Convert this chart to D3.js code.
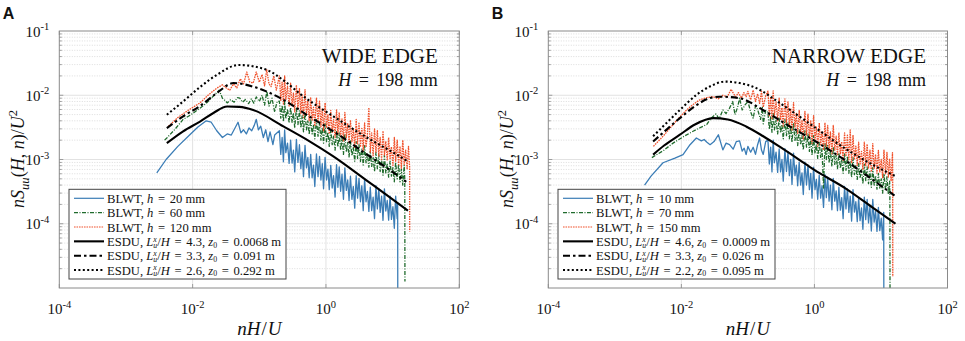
<!DOCTYPE html>
<html lang="en">
<head>
<meta charset="UTF-8">
<title>Spectra: wide edge vs narrow edge</title>
<script src="https://d3js.org/d3.v7.min.js"></script>
<style>
  body { margin: 0; background: #fff; }
  svg text { font-family: "Liberation Serif", "DejaVu Serif", serif; fill: #111; white-space: pre; }
  .panel-tag { font-family: "Liberation Sans", Arial, sans-serif !important; font-weight: bold; }
</style>
</head>
<body>
<svg id="chart" width="965" height="341"></svg>
<script>
// ---- data ----
// low-frequency part of each BLWT trace: [nH/U, nSuu/U^2]
const blwtA20Low = [
  [0.0029,6.2e-4],[0.004,1.0e-3],[0.006,1.6e-3],[0.009,2.4e-3],[0.012,3.2e-3],[0.016,4.0e-3],[0.019,3.8e-3],
  [0.023,2.8e-3],[0.028,2.2e-3],[0.033,2.5e-3],[0.038,2.4e-3],[0.044,3.2e-3],[0.048,3.8e-3],[0.053,2.6e-3],
  [0.058,2.9e-3],[0.064,2.5e-3],[0.07,3.1e-3],[0.077,2.8e-3],[0.084,3.4e-3],[0.09,4.2e-3],[0.097,2.9e-3],
  [0.105,3.3e-3],[0.115,2.2e-3],[0.125,2.9e-3],[0.135,1.9e-3],[0.145,2.7e-3],[0.16,1.7e-3],[0.17,2.4e-3]
];
const blwtA60Low = [
  [0.0038,2.0e-3],[0.0041,2.16e-3],[0.0055,3.0e-3],[0.0072,4.2e-3],[0.0095,5.0e-3],[0.0129,6.3e-3],[0.016,7.5e-3],
  [0.019,9.0e-3],[0.022,1.05e-2],[0.025,1.2e-2],[0.028,9.0e-3],[0.031,8.2e-3],[0.033,7.6e-3],[0.037,8.5e-3],
  [0.042,7.8e-3],[0.047,9.2e-3],[0.051,9.0e-3],[0.056,7.8e-3],[0.062,8.6e-3],[0.069,7.4e-3],[0.076,8.8e-3],
  [0.083,7.5e-3],[0.09,9.4e-3],[0.1,8.0e-3],[0.11,1.0e-2],[0.12,7.0e-3],[0.13,1.15e-2],[0.14,6.8e-3],
  [0.155,9.0e-3],[0.17,5.5e-3],[0.185,8.0e-3]
];
const blwtA120Low = [
  [0.0043,3.27e-3],[0.006,4.5e-3],[0.0085,5.8e-3],[0.0129,7.6e-3],[0.017,1.0e-2],[0.023,1.29e-2],[0.028,1.45e-2],
  [0.032,1.3e-2],[0.036,1.2e-2],[0.041,1.5e-2],[0.046,1.3e-2],[0.052,1.8e-2],[0.058,1.5e-2],[0.065,2.3e-2],
  [0.072,1.6e-2],[0.081,1.55e-2],[0.09,2.3e-2],[0.1,1.6e-2],[0.11,2.1e-2],[0.12,1.4e-2],[0.129,2.5e-2],
  [0.14,1.5e-2],[0.15,1.36e-2],[0.165,2.0e-2],[0.18,1.2e-2]
];
const blwtB10Low = [
  [0.0028,4.0e-4],[0.0035,5.5e-4],[0.0053,8.9e-4],[0.008,1.05e-3],[0.0106,1.19e-3],[0.0135,1.7e-3],[0.0168,2.16e-3],
  [0.02,1.95e-3],[0.022,2.05e-3],[0.024,1.87e-3],[0.027,1.7e-3],[0.031,1.9e-3],[0.036,2.43e-3],[0.042,1.41e-3],
  [0.047,1.8e-3],[0.053,1.7e-3],[0.06,1.45e-3],[0.067,1.9e-3],[0.075,1.95e-3],[0.082,1.35e-3],[0.088,1.5e-3],
  [0.094,1.19e-3],[0.1,1.6e-3],[0.11,1.3e-3],[0.12,1.55e-3],[0.13,1.2e-3],[0.14,1.7e-3],[0.15,2.16e-3],[0.16,1.4e-3],
  [0.17,1.2e-3],[0.185,1.9e-3]
];
const blwtB70Low = [
  [0.0036,1.07e-3],[0.0055,1.4e-3],[0.0075,1.8e-3],[0.011,2.3e-3],[0.015,2.75e-3],[0.02,3.2e-3],[0.024,3.5e-3],
  [0.028,4.4e-3],[0.033,5.1e-3],[0.037,4.3e-3],[0.042,5.9e-3],[0.047,5.2e-3],[0.053,6.3e-3],[0.059,8.0e-3],
  [0.064,5.0e-3],[0.07,6.5e-3],[0.075,9.0e-3],[0.082,5.9e-3],[0.09,7.0e-3],[0.1,8.0e-3],[0.11,5.5e-3],[0.12,4.4e-3],
  [0.13,6.8e-3],[0.14,6.0e-3],[0.155,4.2e-3],[0.165,6.5e-3],[0.17,3.6e-3],[0.185,5.8e-3]
];
const blwtB150Low = [
  [0.0038,1.6e-3],[0.0055,2.4e-3],[0.0075,3.5e-3],[0.0095,4.6e-3],[0.012,5.9e-3],[0.015,7.2e-3],[0.019,8.5e-3],
  [0.024,9.2e-3],[0.03,9.5e-3],[0.036,8.8e-3],[0.042,1.0e-2],[0.049,9.4e-3],[0.056,1.24e-2],[0.061,1.05e-2],
  [0.066,9.5e-3],[0.072,1.1e-2],[0.08,9.0e-3],[0.087,1.1e-2],[0.094,9.5e-3],[0.1,1.15e-2],[0.11,8.5e-3],
  [0.12,1.2e-2],[0.13,8.0e-3],[0.14,1.05e-2],[0.15,7.5e-3],[0.16,1.15e-2],[0.17,6.5e-3],[0.185,9.8e-3]
];

// high-frequency part: frequencies shared by all traces, values per trace
const fHigh = [
  0.20,0.21,0.22,0.23,0.24,0.25,0.265,0.28,0.295,0.31,0.325,0.34,0.36,0.38,0.40,0.42,0.44,0.46,0.485,0.51,
  0.535,0.56,0.59,0.62,0.65,0.68,0.72,0.76,0.80,0.84,0.88,0.92,0.97,1.02,1.07,1.12,1.18,1.24,1.30,1.37,
  1.44,1.51,1.58,1.66,1.74,1.83,1.92,2.02,2.12,2.22,2.33,2.45,2.57,2.70,2.84,2.98,3.13,3.29,3.45,3.62,
  3.80,3.99,4.19,4.40,4.62,4.85,5.10,5.35,5.62,5.90,6.20,6.50,6.83,7.17,7.53,7.90,8.30,8.71,9.15,9.60,
  10.1,10.6,11.1,11.7,12.3,12.9,13.5,14.2,14.9,15.7,16.5,17.3,18.0
];
const blwtA20High = [
  2.8e-3,1.2e-3,2.2e-3,9.2e-4,2.9e-3,1.28e-3,1.8e-3,8.7e-4,2.0e-3,8.8e-4,1.4e-3,6.4e-4,2.05e-3,9e-4,
  1.7e-3,7.2e-4,1.3e-3,5.4e-4,1.66e-3,7.4e-4,1.08e-3,5.2e-4,1.2e-3,5.2e-4,8.2e-4,3.8e-4,1.22e-3,5.4e-4,
  1.12e-3,4.8e-4,8.6e-4,3.5e-4,1.08e-3,4.8e-4,7.1e-4,3.4e-4,8.1e-4,3.6e-4,5.6e-4,2.6e-4,8.3e-4,3.7e-4,
  7.7e-4,3.2e-4,5.9e-4,2.4e-4,7.4e-4,3.3e-4,4.8e-4,2.3e-4,5.5e-4,2.4e-4,3.8e-4,1.75e-4,5.6e-4,2.5e-4,
  5.1e-4,2.2e-4,3.9e-4,1.6e-4,5.0e-4,2.2e-4,3.2e-4,1.56e-4,3.7e-4,1.6e-4,2.6e-4,1.2e-4,3.9e-4,1.7e-4,
  3.5e-4,1.5e-4,2.7e-4,1.13e-4,3.5e-4,1.58e-4,2.3e-4,1.14e-4,2.7e-4,1.17e-4,1.84e-4,8.5e-5,2.7e-4,1.2e-4
];
const blwtA60High = [
  8.1e-3,4.4e-3,7.0e-3,3.9e-3,8.0e-3,4.3e-3,6.1e-3,3.7e-3,6.5e-3,3.8e-3,5.3e-3,3.1e-3,6.3e-3,3.5e-3,
  5.7e-3,3.1e-3,4.8e-3,2.7e-3,5.4e-3,2.9e-3,4.0e-3,2.45e-3,4.3e-3,2.5e-3,3.5e-3,2.1e-3,4.2e-3,2.3e-3,
  3.8e-3,2.0e-3,3.1e-3,1.8e-3,3.6e-3,1.9e-3,2.65e-3,1.6e-3,2.9e-3,1.7e-3,2.3e-3,1.4e-3,2.8e-3,1.56e-3,
  2.6e-3,1.4e-3,2.15e-3,1.2e-3,2.5e-3,1.3e-3,1.85e-3,1.1e-3,1.95e-3,1.14e-3,1.56e-3,9.4e-4,1.9e-3,1.04e-3,
  1.7e-3,9.3e-4,1.45e-3,8.2e-4,1.65e-3,8.9e-4,1.24e-3,7.6e-4,1.34e-3,7.8e-4,1.07e-3,6.5e-4,1.29e-3,7.2e-4,
  1.19e-3,6.5e-4,1.0e-3,5.7e-4,1.16e-3,6.2e-4,8.7e-4,5.3e-4,9.4e-4,5.5e-4,7.5e-4,4.5e-4,9.1e-4,5.0e-4,
  8.4e-4,4.5e-4,7.1e-4,4.0e-4,8.1e-4
];
const blwtA120High = [
  2.0e-2,8.3e-3,1.6e-2,7.3e-3,2.0e-2,8.5e-3,1.38e-2,6.8e-3,1.54e-2,6.9e-3,1.08e-2,5.5e-3,1.44e-2,6.0e-3,
  1.27e-2,5.2e-3,1.0e-2,4.5e-3,1.22e-2,5.0e-3,8.2e-3,4.0e-3,9.1e-3,4.1e-3,6.5e-3,3.3e-3,9.0e-3,3.8e-3,
  8.1e-3,3.25e-3,6.2e-3,2.8e-3,7.6e-3,3.1e-3,5.0e-3,2.5e-3,5.8e-3,2.65e-3,4.2e-3,2.2e-3,5.9e-3,2.5e-3,
  5.4e-3,2.2e-3,4.3e-3,1.95e-3,5.4e-3,2.2e-3,3.6e-3,1.8e-3,4.1e-3,1.9e-3,3.0e-3,1.54e-3,4.2e-3,1.75e-3,
  3.8e-3,1.56e-3,3.05e-3,1.38e-3,3.7e-3,1.55e-3,2.5e-3,6.4e-3,1.3e-3,2.6e-3,1.15e-3,3.0e-3,1.3e-3,2.8e-3,
  1.14e-3,2.2e-3,1.0e-3,2.8e-3,1.17e-3,1.9e-3,9.6e-4,2.2e-3,1.0e-3,1.58e-3,8.1e-4,2.2e-3,9.4e-4,2.0e-3,
  8.3e-4,1.6e-3,7.3e-4,2.0e-3,8.4e-4,1.4e-3,7.0e-4,1.6e-3,7.5e-4
];
const blwtB10High = [
  2.0e-3,8.5e-4,1.56e-3,6.4e-4,2.0e-3,8.9e-4,1.3e-3,6.3e-4,1.46e-3,6.4e-4,1.0e-3,4.6e-4,1.47e-3,6.5e-4,
  1.31e-3,5.6e-4,1.0e-3,4.1e-4,1.26e-3,5.6e-4,8.2e-4,3.9e-4,9.1e-4,4.0e-4,6.2e-4,2.85e-4,9.1e-4,4.0e-4,
  8.2e-4,3.4e-4,6.1e-4,2.5e-4,7.6e-4,3.4e-4,4.9e-4,2.4e-4,5.7e-4,2.5e-4,3.9e-4,1.8e-4,5.8e-4,2.55e-4,
  5.3e-4,2.25e-4,4.0e-4,1.65e-4,5.1e-4,2.25e-4,3.25e-4,1.6e-4,3.7e-4,1.63e-4,2.55e-4,1.2e-4,3.8e-4,1.7e-4,
  3.5e-4,1.5e-4,2.7e-4,1.1e-4,3.4e-4,1.52e-4,2.2e-4,1.08e-4,2.55e-4,1.12e-4,1.76e-4,8.2e-5,2.6e-4,1.16e-4,
  2.4e-4,1.03e-4,1.87e-4,7.7e-5,2.4e-4,1.06e-4,1.56e-4,7.6e-5,1.8e-4,7.8e-5,1.22e-4,5.6e-5
];
const blwtB70High = [
  5.4e-3,2.95e-3,4.6e-3,2.65e-3,5.4e-3,2.9e-3,4.1e-3,2.5e-3,4.4e-3,2.6e-3,3.5e-3,2.1e-3,4.2e-3,2.35e-3,
  3.85e-3,2.1e-3,3.25e-3,1.85e-3,3.7e-3,1.98e-3,2.75e-3,1.65e-3,2.9e-3,1.7e-3,2.35e-3,1.4e-3,2.8e-3,1.56e-3,
  2.5e-3,1.34e-3,2.1e-3,1.17e-3,2.35e-3,1.24e-3,1.72e-3,1.04e-3,1.85e-3,1.08e-3,1.48e-3,3.6e-4,1.8e-3,1.0e-3,
  1.65e-3,8.9e-4,1.38e-3,7.8e-4,1.57e-3,8.4e-4,1.17e-3,7.2e-4,1.26e-3,7.3e-4,1.0e-3,6.1e-4,1.22e-3,6.8e-4,
  1.12e-3,6.1e-4,9.5e-4,5.3e-4,1.07e-3,5.8e-4,8.0e-4,4.9e-4,8.6e-4,5.1e-4,7.0e-4,4.2e-4,8.5e-4,4.7e-4,
  7.7e-4,4.2e-4,6.5e-4,3.7e-4,7.5e-4,4.0e-4,5.6e-4,3.45e-4,6.1e-4,3.6e-4,5.0e-4,3.0e-4,6.0e-4,3.3e-4,
  5.4e-4,2.9e-4,4.6e-4
];
const blwtB150High = [
  1.16e-2,4.8e-3,9.4e-3,4.2e-3,1.17e-2,4.9e-3,7.9e-3,4.0e-3,9.0e-3,4.1e-3,6.4e-3,3.3e-3,8.8e-3,3.7e-3,
  7.9e-3,3.2e-3,6.2e-3,2.8e-3,7.7e-3,3.2e-3,5.2e-3,2.55e-3,5.8e-3,2.6e-3,4.1e-3,2.1e-3,5.6e-3,2.4e-3,
  5.1e-3,2.1e-3,4.0e-3,1.77e-3,4.8e-3,2.0e-3,3.2e-3,1.6e-3,3.7e-3,1.7e-3,2.7e-3,1.4e-3,3.76e-3,1.58e-3,
  3.4e-3,1.4e-3,2.7e-3,1.23e-3,3.4e-3,1.4e-3,2.3e-3,1.15e-3,2.6e-3,1.2e-3,1.9e-3,9.7e-4,2.6e-3,1.12e-3,
  2.4e-3,9.9e-4,2.9e-3,8.7e-4,2.4e-3,9.9e-4,1.62e-3,8.1e-4,1.86e-3,8.5e-4,1.34e-3,7.0e-4,1.87e-3,8.0e-4,
  1.74e-3,7.2e-4,1.4e-3,6.4e-4,1.77e-3,7.3e-4,1.2e-3,6.1e-4,1.39e-3,6.4e-4,1.0e-3,5.2e-4,1.4e-3,6.0e-4,
  1.29e-3,5.3e-4,1.03e-3,4.6e-4,1.28e-3
];
// last points of each trace (end of record, then the drop off the axis)
const blwtA20End = [[11.9,2.0e-4],[11.95,5e-6]];
const blwtA60End = [[15.2,5.0e-4],[15.3,1.26e-5]];
const blwtA120End = [[18.02,7.6e-5]];
const blwtB10End = [[11.0,1.5e-4],[11.05,5e-6]];
const blwtB70End = [[13.6,3.0e-4],[13.7,5e-6]];
const blwtB150End = [[15.0,6e-4],[15.05,1.5e-5]];

// ESDU model curves
const esduA1 = [
  [0.0041,1.8e-3],[0.0072,2.75e-3],[0.0129,3.9e-3],[0.0205,5.3e-3],[0.033,6.7e-3],[0.05,6.6e-3],[0.081,5.9e-3],
  [0.23,3.27e-3],[0.576,1.9e-3],[1.29,1.12e-3],[4.1,4.7e-4],[10,2.4e-4],[17,1.6e-4]
];
const esduA2 = [
  [0.0041,3.08e-3],[0.0072,4.7e-3],[0.0129,6.8e-3],[0.023,1.08e-2],[0.041,1.55e-2],[0.081,1.36e-2],
  [0.23,8.5e-3],[0.576,4.6e-3],[1.29,2.75e-3],[4.1,1.2e-3],[10,6.4e-4],[16,4.5e-4]
];
const esduA3 = [
  [0.0041,4.97e-3],[0.0072,8.0e-3],[0.0129,1.34e-2],[0.023,2.07e-2],[0.049,2.96e-2],[0.129,2.48e-2],
  [0.25,1.6e-2],[0.41,1.05e-2],[1.29,4.7e-3],[4.1,2.2e-3],[10,1.3e-3],[17,9.3e-4]
];
const esduB1 = [
  [0.00376,1.19e-3],[0.0055,1.65e-3],[0.0095,2.43e-3],[0.016,3.5e-3],[0.03,4.4e-3],[0.05,4.2e-3],[0.094,3.27e-3],
  [0.17,2.3e-3],[0.3,1.58e-3],[0.6,9.8e-4],[0.97,7.0e-4],[3.0,3.5e-4],[8,1.7e-4],[16.5,1.0e-4]
];
const esduB2 = [
  [0.00376,1.9e-3],[0.0055,2.7e-3],[0.0095,4.4e-3],[0.0168,7.0e-3],[0.025,8.8e-3],[0.0377,9.5e-3],[0.075,9.0e-3],
  [0.168,5.9e-3],[0.4,3.4e-3],[0.97,2.0e-3],[3.0,9.5e-4],[8,4.6e-4],[16,2.75e-4]
];
const esduB3 = [
  [0.00376,2.3e-3],[0.0055,3.4e-3],[0.0095,5.9e-3],[0.0168,1.01e-2],[0.028,1.4e-2],[0.0448,1.63e-2],[0.075,1.55e-2],
  [0.134,1.29e-2],[0.3,7.6e-3],[0.97,3.27e-3],[3.0,1.45e-3],[8,8.0e-4],[16.5,5.5e-4]
];

// legend values
const hA = [20, 60, 120], LuA = ["4.3", "3.3", "2.6"], z0A = ["0.0068", "0.091", "0.292"];
const hB = [10, 70, 150], LuB = ["4.6", "3.3", "2.2"], z0B = ["0.0009", "0.026", "0.095"];
const xTicks = [1e-4, 1e-2, 1e0, 1e2];
const yTicks = [1e-1, 1e-2, 1e-3, 1e-4];

function trace(low, high, end) {
  return low.concat(high.map((v, i) => [fHigh[i], v]), end);
}

// ---- styles ----
const blwtStyle = [
  {color: "#3b7db6", dash: null, w: 1.3},
  {color: "#1f6b2c", dash: "4,1.5,1,1.5", w: 1.3},
  {color: "#f0522c", dash: "1.6,0.9", w: 1.3}
];
const esduStyle = [{dash: null}, {dash: "7,3,2.5,3"}, {dash: "2,2.4"}];

const svg = d3.select("#chart");
const yTop = 31, yBot = 288;

// text made of plain / italic / sub / sup pieces
function rich(text, segs, fs, opt) {
  const o = Object.assign({sub: 0.28, sup: 0.42, small: 0.7}, opt);
  let shift = 0;
  segs.forEach(s => {
    const ts = text.append("tspan").text(s.t);
    const target = s.sub ? fs * o.sub : s.sup ? -fs * o.sup : 0;
    const dy = target - shift;
    shift = target;
    if (dy) ts.attr("dy", dy);
    if (s.dx) ts.attr("dx", s.dx);
    ts.style("font-size", ((s.sub || s.sup) ? fs * o.small : fs) + "px");
    if (s.it) ts.style("font-style", "italic");
  });
}

function drawPanel(p) {
  const x = d3.scaleLog().domain([1e-4, 1e2]).range([p.x0, p.x1]);
  const y = d3.scaleLog().domain([1e-5, 1e-1]).range([yBot, yTop]);
  const g = svg.append("g");

  // grid
  const minorY = [];
  for (let e = -5; e < -1; e++) for (let k = 2; k <= 9; k++) minorY.push(k * Math.pow(10, e));
  g.selectAll(".gmin").data(minorY).enter().append("line")
    .attr("x1", p.x0).attr("x2", p.x1)
    .attr("y1", d => y(d)).attr("y2", d => y(d))
    .attr("stroke", "#d4d4d4").attr("stroke-width", 0.8).attr("stroke-dasharray", "1,1.5");
  g.selectAll(".gmaj").data([1e-2, 1e-3, 1e-4]).enter().append("line")
    .attr("x1", p.x0).attr("x2", p.x1)
    .attr("y1", d => y(d)).attr("y2", d => y(d))
    .attr("stroke", "#e2e2e2").attr("stroke-width", 1);
  g.selectAll(".gx").data([1e-2, 1e0]).enter().append("line")
    .attr("x1", d => x(d)).attr("x2", d => x(d))
    .attr("y1", yTop).attr("y2", yBot)
    .attr("stroke", "#e2e2e2").attr("stroke-width", 1);

  // clip
  svg.append("clipPath").attr("id", "clip" + p.id).append("rect")
    .attr("x", p.x0).attr("y", yTop).attr("width", p.x1 - p.x0).attr("height", yBot - yTop);
  const plot = g.append("g").attr("clip-path", `url(#clip${p.id})`);

  const line = d3.line().x(d => x(d[0])).y(d => y(d[1]));
  const smooth = d3.line().x(d => x(d[0])).y(d => y(d[1])).curve(d3.curveMonotoneX);

  p.blwt.forEach((s, i) => {
    plot.append("path").datum(s).attr("d", line).attr("fill", "none")
      .attr("stroke", blwtStyle[i].color).attr("stroke-width", blwtStyle[i].w)
      .attr("stroke-linejoin", "round")
      .attr("stroke-dasharray", blwtStyle[i].dash);
  });
  p.esdu.forEach((s, i) => {
    plot.append("path").datum(s).attr("d", smooth).attr("fill", "none")
      .attr("stroke", "#000").attr("stroke-width", 2.1)
      .attr("stroke-dasharray", esduStyle[i].dash);
  });

  // box + ticks
  g.append("rect").attr("x", p.x0).attr("y", yTop).attr("width", p.x1 - p.x0).attr("height", yBot - yTop)
    .attr("fill", "none").attr("stroke", "#8a8a8a").attr("stroke-width", 1);
  const allY = minorY.concat([1e-4, 1e-3, 1e-2]);
  allY.forEach(v => {
    const len = minorY.includes(v) ? 2.5 : 4;
    [[p.x0, len], [p.x1, -len]].forEach(([xx, l]) => {
      g.append("line").attr("x1", xx).attr("x2", xx + l).attr("y1", y(v)).attr("y2", y(v))
        .attr("stroke", "#8a8a8a").attr("stroke-width", 0.8);
    });
  });
  xTicks.forEach(v => {
    [[yBot, -4], [yTop, 4]].forEach(([yy, l]) => {
      g.append("line").attr("x1", x(v)).attr("x2", x(v)).attr("y1", yy).attr("y2", yy + l)
        .attr("stroke", "#8a8a8a").attr("stroke-width", 0.8);
    });
  });

  // tick labels
  xTicks.forEach(v => {
    const t = g.append("text").attr("x", x(v)).attr("y", 314).attr("text-anchor", "middle");
    rich(t, [{t: "10"}, {t: String(Math.round(Math.log10(v))), sup: true}], 15);
  });
  yTicks.forEach(v => {
    const t = g.append("text").attr("x", p.x0 - 10).attr("y", y(v) + 5.5).attr("text-anchor", "end");
    rich(t, [{t: "10"}, {t: String(Math.round(Math.log10(v))), sup: true}], 15);
  });

  // axis titles
  const xl = g.append("text").attr("x", (p.x0 + p.x1) / 2).attr("y", 335).attr("text-anchor", "middle");
  rich(xl, [{t: "nH", it: true}, {t: "/", dx: 1}, {t: "U", it: true, dx: 1}], 19);
  const cx = p.x0 - 35, cy = 159;
  const yl = g.append("text").attr("x", cx).attr("y", cy).attr("text-anchor", "middle")
    .attr("transform", `rotate(-90,${cx},${cy})`);
  rich(yl, [{t: "nS", it: true}, {t: "uu", it: true, sub: true}, {t: "("}, {t: "H", it: true}, {t: ", "},
    {t: "n", it: true}, {t: ")/"}, {t: "U", it: true}, {t: "2", sup: true}], 18);

  // panel tag
  g.append("text").attr("class", "panel-tag").attr("x", p.x0 - 56.5).attr("y", 18.5)
    .style("font-size", "16px").text(p.id);

  // annotation
  g.append("text").attr("x", p.x1 - 21.5).attr("y", 63).attr("text-anchor", "end")
    .style("font-size", "21px").text(p.title);
  const ht = g.append("text").attr("x", p.x1 - 21.5).attr("y", 86).attr("text-anchor", "end");
  rich(ht, [{t: "H", it: true}, {t: " = ", dx: 3}, {t: "198", dx: 3}, {t: " mm", dx: 2}], 18);

  // legend
  const lx = p.x0 + 9.7, ly = 189.3, lw = 217, lh = 89.7;
  g.append("rect").attr("x", lx).attr("y", ly).attr("width", lw).attr("height", lh)
    .attr("fill", "#fff").attr("stroke", "#444").attr("stroke-width", 1);
  const rows = [];
  p.h.forEach((h, i) => rows.push({type: "b", i, segs: [{t: "BLWT, "}, {t: "h", it: true},
    {t: " = ", dx: 1.5}, {t: h + " mm", dx: 1.5}]}));
  p.Lu.forEach((L, i) => rows.push({type: "e", i, segs: [{t: "ESDU, "}, {t: "L", it: true},
    {t: "x", it: true, sup: true}, {t: "u", it: true, sub: true, dx: -3.3}, {t: "/"}, {t: "H", it: true},
    {t: " = ", dx: 1.5}, {t: L + ", ", dx: 1.5}, {t: "z", it: true}, {t: "0", sub: true},
    {t: " = ", dx: 1.5}, {t: p.z0[i] + " m", dx: 1.5}]}));
  rows.forEach((r, k) => {
    const ry = ly + 9 + k * 14.35;
    const ln = g.append("line").attr("x1", lx + 5).attr("x2", lx + 35).attr("y1", ry).attr("y2", ry);
    if (r.type === "b") {
      ln.attr("stroke", blwtStyle[r.i].color).attr("stroke-width", 1.2)
        .attr("stroke-dasharray", blwtStyle[r.i].dash);
    } else {
      ln.attr("stroke", "#000").attr("stroke-width", 2.1).attr("stroke-dasharray", esduStyle[r.i].dash);
    }
    const t = g.append("text").attr("x", lx + 38).attr("y", ry + 4.5);
    rich(t, r.segs, 12.6, {sub: 0.15, sup: 0.34, small: 0.62});
  });
}

drawPanel({id: "A", x0: 59.3, x1: 459.3, title: "WIDE EDGE",
  blwt: [trace(blwtA20Low, blwtA20High, blwtA20End), trace(blwtA60Low, blwtA60High, blwtA60End),
         trace(blwtA120Low, blwtA120High, blwtA120End)],
  esdu: [esduA1, esduA2, esduA3], h: hA, Lu: LuA, z0: z0A});
drawPanel({id: "B", x0: 548.3, x1: 947.5, title: "NARROW EDGE",
  blwt: [trace(blwtB10Low, blwtB10High, blwtB10End), trace(blwtB70Low, blwtB70High, blwtB70End),
         trace(blwtB150Low, blwtB150High, blwtB150End)],
  esdu: [esduB1, esduB2, esduB3], h: hB, Lu: LuB, z0: z0B});
</script>
</body>
</html>
